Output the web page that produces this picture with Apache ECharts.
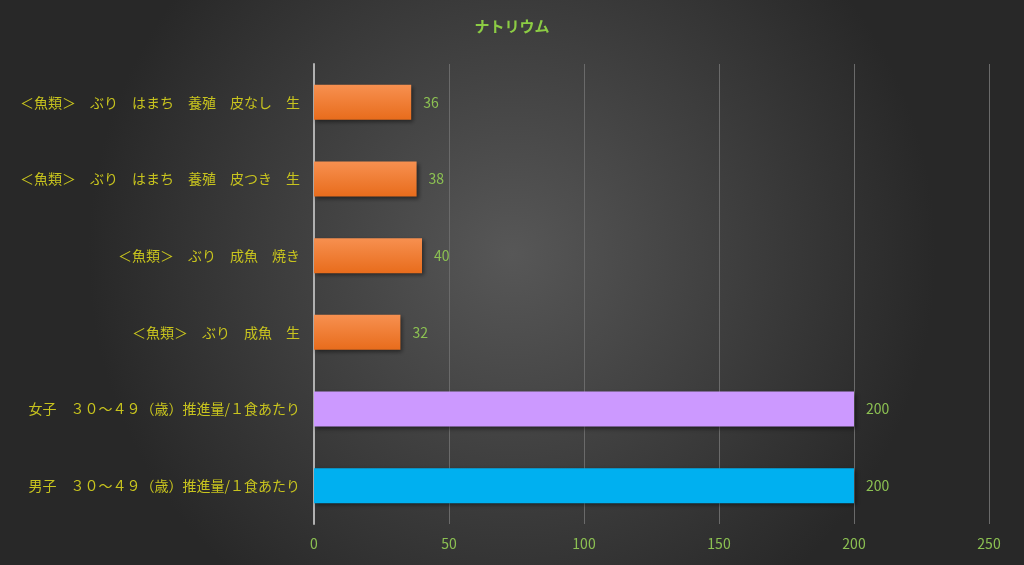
<!DOCTYPE html>
<html lang="ja">
<head>
    <meta charset="utf-8"/>
    <title>ナトリウム</title>
    <style>
        html, body { margin: 0; padding: 0; }
        #chart { width: 1024px; height: 565px; }
    </style>
</head>
<body>
<div id="chart"></div>
<script src="https://cdn.jsdelivr.net/npm/echarts@6/dist/echarts.min.js"></script>
<script>
    // 下から順に並べる (category axis starts at bottom)
    const foods = [
        '男子　３０～４９（歳）推進量/１食あたり',
        '女子　３０～４９（歳）推進量/１食あたり',
        '＜魚類＞　ぶり　成魚　生',
        '＜魚類＞　ぶり　成魚　焼き',
        '＜魚類＞　ぶり　はまち　養殖　皮つき　生',
        '＜魚類＞　ぶり　はまち　養殖　皮なし　生'
    ];
    const values = [200, 200, 32, 40, 38, 36];
    const xTicks = [0, 50, 100, 150, 200, 250];

    const orange = {
        type: 'linear', x: 0, y: 0, x2: 0, y2: 1,
        colorStops: [{offset: 0, color: '#f79050'}, {offset: 1, color: '#e86c1c'}]
    };
    const barColors = ['#00b0f0', '#cc99ff', orange, orange, orange, orange];

    let chart = echarts.init(document.getElementById('chart'));
    chart.setOption({
        backgroundColor: {
            type: 'radial', x: 0.5, y: 0.45, r: 0.75,
            colorStops: [{offset: 0, color: '#575757'}, {offset: 1, color: '#282828'}]
        },
        textStyle: {fontFamily: '"Noto Sans CJK JP", sans-serif'},
        title: {
            text: 'ナトリウム',
            left: 'center',
            top: 14,
            textStyle: {color: '#8ccc44', fontSize: 15, fontWeight: 'bold'}
        },
        grid: {left: 314, right: 35, top: 64, bottom: 41},
        xAxis: {
            type: 'value',
            min: xTicks[0],
            max: xTicks[xTicks.length - 1],
            interval: 50,
            axisLine: {show: false},
            axisTick: {show: false},
            axisLabel: {color: '#8cc152', fontSize: 14, margin: 13},
            splitLine: {lineStyle: {color: '#6a6a6a', width: 1}}
        },
        yAxis: {
            type: 'category',
            data: foods,
            axisLine: {lineStyle: {color: '#b0b0b0', width: 2}},
            axisTick: {show: false},
            axisLabel: {color: '#c8c41e', fontSize: 14, margin: 14}
        },
        series: [{
            type: 'bar',
            barWidth: 35,
            data: values.map(function (v, i) {
                return {value: v, itemStyle: {color: barColors[i]}};
            }),
            itemStyle: {
                shadowBlur: 4,
                shadowOffsetX: 2,
                shadowOffsetY: 2,
                shadowColor: 'rgba(0,0,0,0.45)'
            },
            label: {
                show: true,
                position: 'right',
                distance: 12,
                color: '#8cc152',
                fontSize: 14
            }
        }]
    });
</script>
</body>
</html>
